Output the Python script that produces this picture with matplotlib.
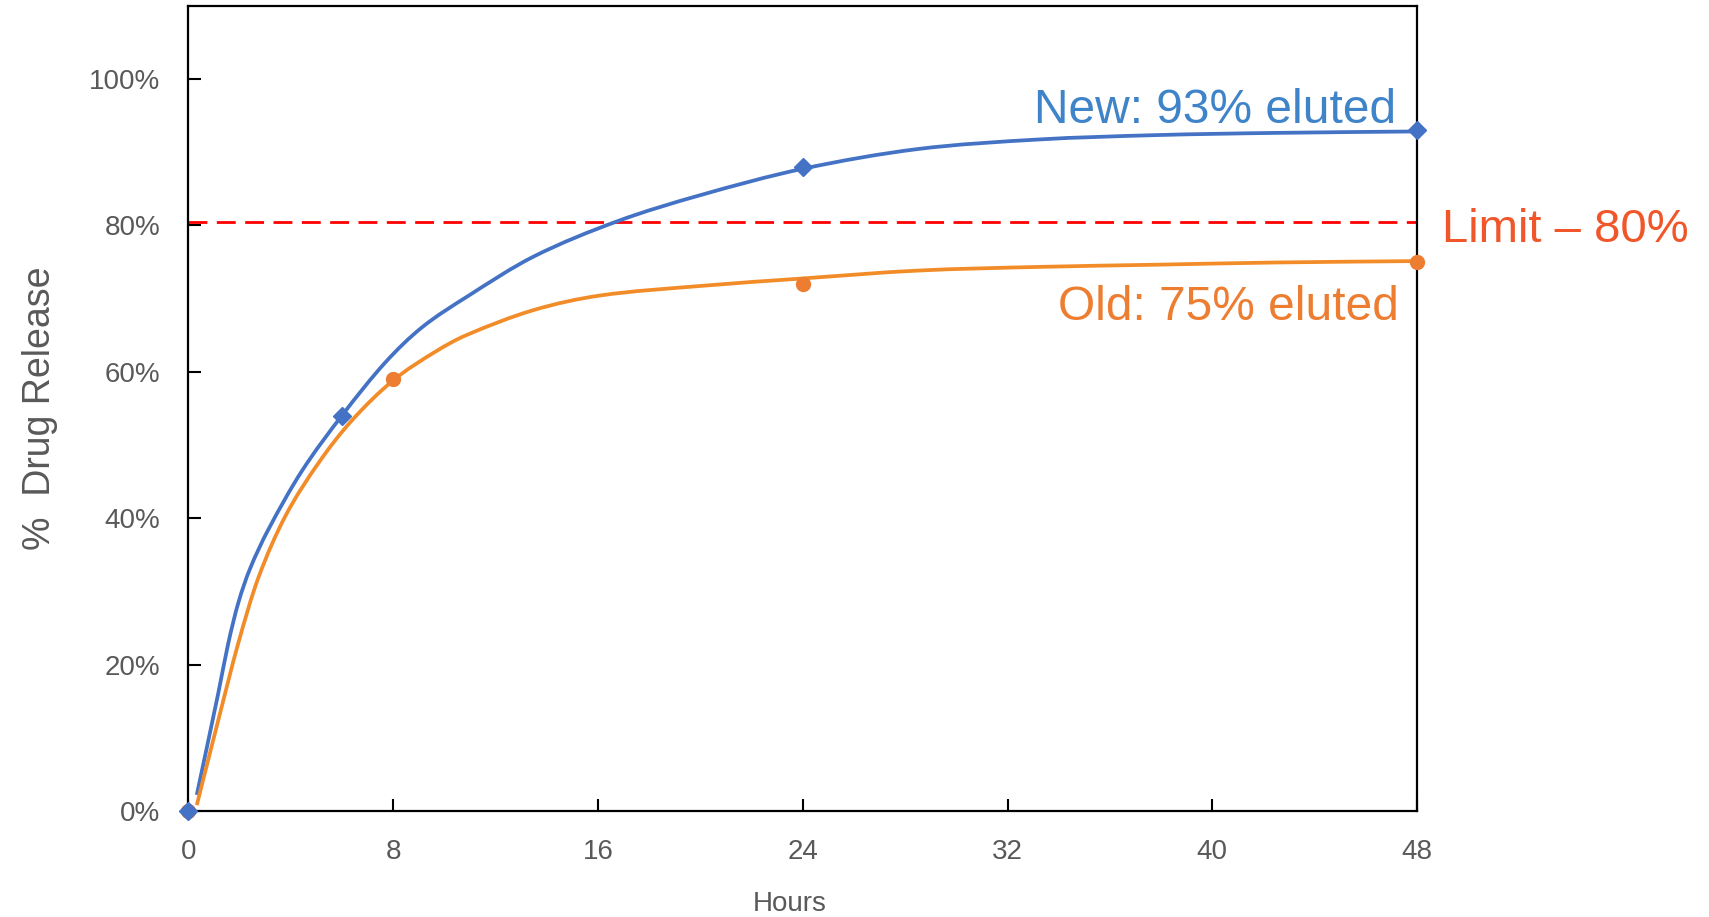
import matplotlib.pyplot as plt
from matplotlib.path import Path
from matplotlib.patches import PathPatch

plt.rcParams['font.family'] = ['Liberation Sans', 'DejaVu Sans']

# measured points (markers)
new_x = [0, 6, 24, 48]
new_y = [0.0, 0.54, 0.88, 0.93]
old_x = [0, 8, 24, 48]
old_y = [0.0, 0.59, 0.72, 0.75]

# smooth trend lines
new_line_x = [0.33, 1.17, 1.56, 1.95, 2.4, 3.12, 4.43, 6.0, 7.68, 9.11,
              10.87, 13.48, 16.73, 20.0, 24.0, 28.5, 33.2, 37.8, 42.4, 48.0]
new_line_y = [0.022, 0.161, 0.229, 0.284, 0.330, 0.384, 0.464, 0.540, 0.612, 0.660,
              0.702, 0.757, 0.805, 0.841, 0.877, 0.904, 0.917, 0.923, 0.926, 0.928]
old_line_x = [0.33, 1.17, 1.95, 2.73, 3.78, 5.08, 6.38, 8.0, 9.64, 10.87, 13.48,
              16.09, 20.0, 23.9, 28.5, 33.2, 37.8, 42.4, 48.0]
old_line_y = [0.008, 0.124, 0.229, 0.318, 0.402, 0.475, 0.533, 0.588, 0.627, 0.650, 0.684,
              0.704, 0.717, 0.727, 0.738, 0.743, 0.746, 0.749, 0.751]

limit = 0.805
x_ticks = [0, 8, 16, 24, 32, 40, 48]
y_ticks = [0, 0.2, 0.4, 0.6, 0.8, 1.0]
y_tick_labels = ['0%', '20%', '40%', '60%', '80%', '100%']

blue = '#4472C4'
orange_line = '#F28C28'
orange = '#ED7D31'
grey = '#595959'


def smooth_path(xs, ys):
    # smoothed line drawn as cubic bezier segments through the points
    n = len(xs)
    slopes = []
    for i in range(n):
        a = max(i - 1, 0)
        b = min(i + 1, n - 1)
        slopes.append((ys[b] - ys[a]) / (xs[b] - xs[a]))
    verts = [(xs[0], ys[0])]
    codes = [Path.MOVETO]
    for i in range(n - 1):
        h = (xs[i + 1] - xs[i]) / 3
        verts += [(xs[i] + h, ys[i] + slopes[i] * h),
                  (xs[i + 1] - h, ys[i + 1] - slopes[i + 1] * h),
                  (xs[i + 1], ys[i + 1])]
        codes += [Path.CURVE4] * 3
    return Path(verts, codes)


fig = plt.figure(figsize=(17.09, 9.17), dpi=100)
ax = fig.add_axes([0.1102, 0.1156, 0.7190, 0.8784])

ax.add_patch(PathPatch(smooth_path(new_line_x, new_line_y), fill=False, edgecolor=blue, lw=2.7, zorder=3))
ax.add_patch(PathPatch(smooth_path(old_line_x, old_line_y), fill=False, edgecolor=orange_line, lw=2.7, zorder=3))
ax.axhline(limit, color='#FF0000', lw=2, dashes=(6.8, 3.4), zorder=2)

ax.plot(old_x, old_y, 'o', color=orange, ms=10, ls='none', zorder=4, clip_on=False)
ax.plot(new_x, new_y, 'D', color=blue, ms=9, ls='none', zorder=5, clip_on=False)

ax.text(47.2, 0.94, 'New: 93% eluted', color='#3F83C8', fontsize=34.5, ha='right', va='baseline')
ax.text(47.3, 0.670, 'Old: 75% eluted', color=orange, fontsize=34.5, ha='right', va='baseline')
ax.text(48.97, 0.777, 'Limit \u2013 80%', color='#F0562A', fontsize=34, ha='left', va='baseline',
        clip_on=False)

ax.set_xlim(0, 48)
ax.set_ylim(0, 1.1)
ax.set_xticks(x_ticks)
ax.set_yticks(y_ticks)
ax.set_yticklabels(y_tick_labels)
ax.tick_params(direction='in', length=9, width=1.5, labelsize=20, labelcolor=grey, pad=20)
for s in ax.spines.values():
    s.set_linewidth(1.6)
    s.set_color('black')

ax.set_xlabel('Hours', fontsize=20, color=grey)
ax.xaxis.set_label_coords(0.489, -0.099)
ax.set_ylabel('%  Drug Release', fontsize=27, color=grey)
ax.yaxis.set_label_coords(-0.106, 0.5)

fig.savefig('out.png', dpi=100)
